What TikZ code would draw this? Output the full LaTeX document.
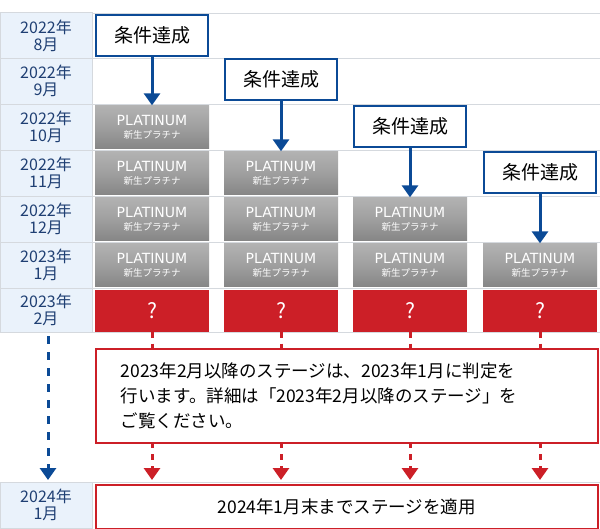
\documentclass[tikz,border=0pt]{standalone}
\usepackage{fontspec}
\setmainfont{Noto Sans CJK JP}
\newfontfamily\platfont{DejaVu Sans}
\usetikzlibrary{arrows.meta}
\definecolor{dblue}{HTML}{0B4A96}
\definecolor{lblue}{HTML}{EAF2FB}
\definecolor{txtblue}{HTML}{1F3F73}
\definecolor{rred}{HTML}{CC1F27}
\definecolor{gridg}{HTML}{D5D9DE}
\tikzset{
  x=1pt,y=-1pt,
  datecell/.style={draw=gridg,fill=lblue,minimum width=92pt,minimum height=46pt,inner sep=0pt,align=center,text=txtblue,font=\fontsize{16}{17}\selectfont},
  condbox/.style={draw=dblue,line width=1.3pt,fill=white,minimum width=112pt,minimum height=41pt,inner sep=0pt,font=\fontsize{19}{20}\selectfont},
  plat/.style={minimum width=114pt,minimum height=43pt,inner sep=0pt,align=center,text=white,top color=gray!60,bottom color=gray!95,middle color=gray!75},
  qbox/.style={fill=rred,minimum width=114pt,minimum height=42pt,inner sep=0pt,text=white,font=\fontsize{21}{22}\selectfont},
  blarrow/.style={draw=dblue,line width=3pt,-{Triangle[width=16pt,length=12pt]}},
  reddash/.style={draw=rred,line width=3pt,dash pattern=on 6pt off 6pt},
  redarrow/.style={reddash,-{Triangle[width=16pt,length=12pt]}},
  infobox/.style={draw=rred,line width=1.5pt,fill=white,inner sep=0pt,align=left}
}
\newcommand{\platlabel}{{\platfont\fontsize{14}{16}\selectfont PLATINUM}\\[1pt]{\fontsize{9.5}{11}\selectfont 新生プラチナ}}
\begin{document}
\begin{tikzpicture}
\useasboundingbox (0,0) rectangle (600,528);
\foreach \yy in {13,58,104,150,196,242,288,332}{\draw[gridg] (0,\yy) -- (600,\yy);}
\draw[gridg] (0,482) -- (600,482);
\node[datecell] (d1) at (46,35.5) {2022年\\8月};
\node[datecell] (d2) at (46,81) {2022年\\9月};
\node[datecell] (d3) at (46,127) {2022年\\10月};
\node[datecell] (d4) at (46,173) {2022年\\11月};
\node[datecell] (d5) at (46,219) {2022年\\12月};
\node[datecell] (d6) at (46,265) {2023年\\1月};
\node[datecell,minimum height=44pt] (d7) at (46,310) {2023年\\2月};
\node[datecell] (d8) at (46,505) {2024年\\1月};
\foreach \c/\x/\s in {1/152/3,2/281/4,3/410/5,4/540/6}{
  \foreach \r/\y in {3/127,4/173,5/219,6/265}{
    \ifnum\r<\s\else
      \node[plat] (p\c\r) at (\x,\y) {\platlabel};
    \fi
  }
  \node[qbox] (q\c) at (\x,310.5) {?};
}
\node[condbox] (c1) at (152,35.5) {条件達成};
\node[condbox] (c2) at (281,79.5) {条件達成};
\node[condbox] (c3) at (410,126.5) {条件達成};
\node[condbox] (c4) at (540,172.5) {条件達成};
\draw[blarrow] (c1.south) -- (p13.north);
\draw[blarrow] (c2.south) -- (p24.north);
\draw[blarrow] (c3.south) -- (p35.north);
\draw[blarrow] (c4.south) -- (p46.north);
\node[infobox,minimum width=502pt,minimum height=94pt,anchor=north west,text width=500pt,font=\fontsize{17.5}{25}\selectfont] (info) at (95,348) {\hspace*{24pt}2023年2月以降のステージは、2023年1月に判定を\\\hspace*{24pt}行います。詳細は「2023年2月以降のステージ」を\\\hspace*{24pt}ご覧ください。};
\node[infobox,minimum width=502pt,minimum height=44pt,anchor=north west,font=\fontsize{17.5}{20}\selectfont,align=center] (final) at (95,484) {2024年1月末までステージを適用};
\foreach \c/\x in {1/152,2/281,3/410,4/540}{
  \coordinate (t\c) at (\x,348);
  \coordinate (b\c) at (\x,442);
  \coordinate (f\c) at (\x,480);
  \draw[reddash] (q\c.south) -- (t\c);
  \draw[redarrow] (b\c) -- (f\c);
}
\coordinate (bs) at (48,336);
\coordinate (be) at (48,480);
\draw[blarrow,dash pattern=on 8pt off 8pt] (bs) -- (be);
\end{tikzpicture}
\end{document}
